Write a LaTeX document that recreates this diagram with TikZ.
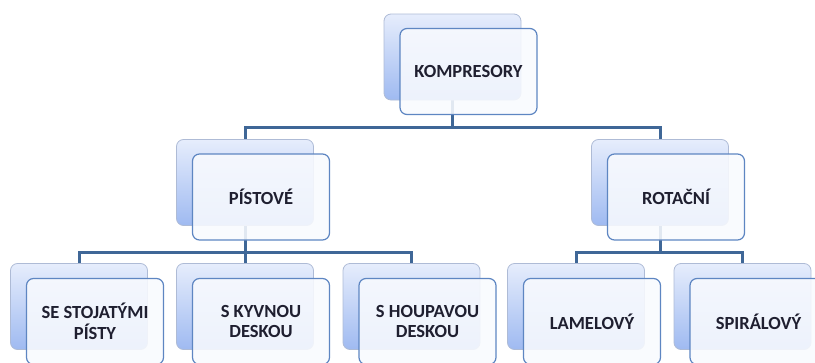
\documentclass[tikz,border=0pt]{standalone}
\usepackage{fontspec}
\setmainfont{Carlito}
\usetikzlibrary{calc}
\definecolor{bktop}{HTML}{E6EDFC}
\definecolor{bkbot}{HTML}{9FBAF1}
\definecolor{bkline}{HTML}{AEBBD6}
\definecolor{frfill}{HTML}{F8FAFE}
\definecolor{frline}{HTML}{5E86C2}
\definecolor{conncol}{HTML}{3F6797}
\definecolor{txt}{HTML}{1F1F30}
\pgfdeclarelayer{bg}
\pgfsetlayers{bg,main}
\tikzset{
  backbox/.style={rectangle, rounded corners=7pt, minimum width=137pt, minimum height=86pt,
    top color=bktop, bottom color=bkbot, draw=bkline, line width=0.8pt},
  frontbox/.style={rectangle, rounded corners=7pt, minimum width=137pt, minimum height=86pt,
    fill=frfill, fill opacity=0.88, text opacity=1, draw=frline, line width=1.2pt,
    text=txt, font=\bfseries\fontsize{18.5}{20.5}\selectfont, align=center},
  conn/.style={draw=conncol, line width=3pt}
}
\begin{document}
\begin{tikzpicture}[x=1pt,y=-1pt]
\useasboundingbox (0,0) rectangle (815,362);
\clip (0,0) rectangle (815,362);
% level 0
\node[backbox] (kb) at (452.5,57) {};
\node[frontbox] (k) at (468.5,71.5) {KOMPRESORY};
% level 1
\node[backbox] (pb) at (245,182.5) {};
\node[frontbox] (p) at (261,197) {PÍSTOVÉ};
\node[backbox] (rb) at (660,182.5) {};
\node[frontbox] (r) at (676,197) {ROTAČNÍ};
% level 2
\node[backbox] (ab) at (79,306.5) {};
\node[frontbox] (a) at (95,321.5) {SE STOJATÝMI\\PÍSTY};
\node[backbox] (bb) at (245,306.5) {};
\node[frontbox] (b) at (261,321.5) {S KYVNOU\\DESKOU};
\node[backbox] (cb) at (411.5,306.5) {};
\node[frontbox] (c) at (427.5,321.5) {S HOUPAVOU\\DESKOU};
\node[backbox] (db) at (576,306.5) {};
\node[frontbox] (d) at (592,321.5) {LAMELOVÝ};
\node[backbox] (eb) at (742.5,306.5) {};
\node[frontbox] (e) at (758.5,321.5) {SPIRÁLOVÝ};
% bus coordinates
\coordinate (bus0) at (0,127);
\coordinate (bus1) at (0,252);
\begin{pgfonlayer}{bg}
\draw[conn] (kb.south) -- (kb.south |- bus0) -| (pb.north);
\draw[conn] (kb.south |- bus0) -| (rb.north);
\draw[conn] (pb.south) -- (pb.south |- bus1) -| (ab.north);
\draw[conn] (pb.south |- bus1) -| (bb.north);
\draw[conn] (pb.south |- bus1) -| (cb.north);
\draw[conn] (rb.south) -- (rb.south |- bus1) -| (db.north);
\draw[conn] (rb.south |- bus1) -| (eb.north);
\end{pgfonlayer}
\end{tikzpicture}
\end{document}
